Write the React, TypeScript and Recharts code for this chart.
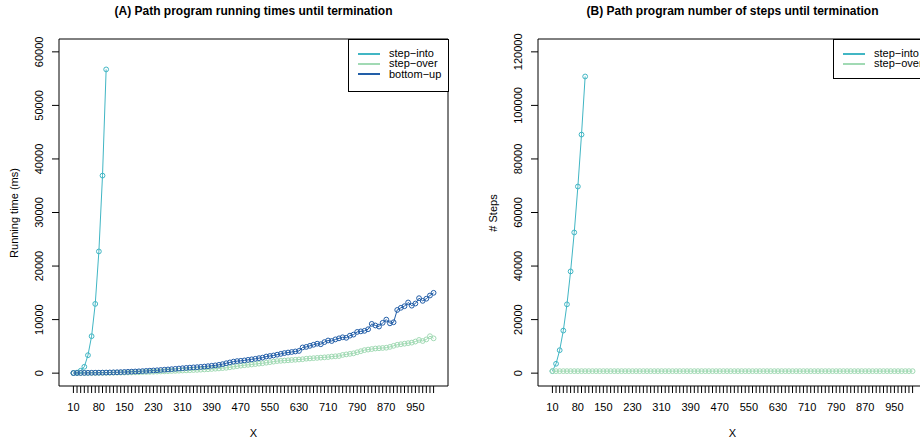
import { LineChart, Line, XAxis, YAxis, ReferenceArea } from "recharts";

const FONT = '"Liberation Sans", Arial, Helvetica, sans-serif';
const INTO = "#41B6C4";
const OVER = "#A1DAB4";
const BOTTOM = "#225EA8";
const INK = "#000";

const PANEL_W = 479;
const H = 444;
const MARGIN = { top: 39, right: 31, bottom: 0, left: 0 };
const X_DOMAIN: [number, number] = [-29.6, 1039.6];

// x categories (problem size)
const X_VALUES = [
  10, 20, 30, 40, 50, 60, 70, 80, 90, 100,
  110, 120, 130, 140, 150, 160, 170, 180, 190, 200,
  210, 220, 230, 240, 250, 260, 270, 280, 290, 300,
  310, 320, 330, 340, 350, 360, 370, 380, 390, 400,
  410, 420, 430, 440, 450, 460, 470, 480, 490, 500,
  510, 520, 530, 540, 550, 560, 570, 580, 590, 600,
  610, 620, 630, 640, 650, 660, 670, 680, 690, 700,
  710, 720, 730, 740, 750, 760, 770, 780, 790, 800,
  810, 820, 830, 840, 850, 860, 870, 880, 890, 900,
  910, 920, 930, 940, 950, 960, 970, 980, 990, 1000,
];
// labels R managed to fit under the ticks
const X_LABELS = [10, 80, 150, 230, 310, 390, 470, 550, 630, 710, 790, 870, 950];

// (A) running time, ms
const A_INTO = [30, 100, 450, 1190, 3350, 6900, 12930, 22730, 36890, 56720];
const A_OVER = [
  10, 15, 20, 25, 30, 35, 40, 45, 50, 60,
  70, 80, 90, 100, 115, 130, 145, 160, 180, 200,
  220, 240, 265, 290, 315, 340, 370, 400, 430, 460,
  490, 520, 550, 580, 610, 650, 690, 730, 780, 830,
  880, 940, 1000, 1100, 1200, 1300, 1400, 1480, 1550, 1620,
  1700, 1780, 1850, 1950, 2050, 2150, 2250, 2300, 2350, 2400,
  2450, 2500, 2550, 2600, 2700, 2750, 2800, 2850, 2900, 2950,
  3000, 3100, 3150, 3200, 3400, 3500, 3600, 3700, 3900, 4100,
  4300, 4400, 4500, 4600, 4650, 4700, 4750, 4900, 5100, 5300,
  5400, 5500, 5600, 5700, 5900, 6200, 6000, 6300, 6900, 6500,
];
const A_BOTTOM = [
  20, 30, 40, 50, 60, 70, 80, 90, 100, 110,
  130, 150, 170, 190, 220, 250, 280, 310, 340, 380,
  420, 460, 500, 540, 590, 640, 690, 740, 800, 860,
  920, 980, 1030, 1080, 1120, 1170, 1230, 1300, 1380, 1450,
  1550, 1680, 1850, 2000, 2150, 2250, 2300, 2380, 2480, 2580,
  2680, 2800, 2900, 3100, 3200, 3300, 3450, 3600, 3750, 3850,
  3950, 4050, 4150, 4800, 4900, 5100, 5300, 5500, 5400, 5800,
  6100, 6000, 6300, 6500, 6700, 6600, 7000, 7200, 7700, 7800,
  7900, 8200, 9200, 8900, 8700, 9400, 10000, 9300, 9500, 11800,
  12200, 12500, 13200, 12600, 13000, 14000, 13500, 13900, 14500, 15000,
];

// (B) number of steps
const B_INTO = [750, 3500, 8570, 15900, 25700, 38000, 52550, 69700, 89100, 110800];
const B_OVER = [
  750, 750, 750, 750, 750, 750, 750, 750, 750, 750,
  750, 750, 750, 750, 750, 750, 750, 750, 750, 750,
  750, 750, 750, 750, 750, 750, 750, 750, 750, 750,
  750, 750, 750, 750, 750, 750, 750, 750, 750, 750,
  750, 750, 750, 750, 750, 750, 750, 750, 750, 750,
  750, 750, 750, 750, 750, 750, 750, 750, 750, 750,
  750, 750, 750, 750, 750, 750, 750, 750, 750, 750,
  750, 750, 750, 750, 750, 750, 750, 750, 750, 750,
  750, 750, 750, 750, 750, 750, 750, 750, 750, 750,
  750, 750, 750, 750, 750, 750, 750, 750, 750, 750,
];

const A_TICKS = [0, 10000, 20000, 30000, 40000, 50000, 60000];
const B_TICKS = [0, 20000, 40000, 60000, 80000, 100000, 120000];

type Series = { key: string; name: string; color: string; values: number[] };

const A_SERIES: Series[] = [
  { key: "into", name: "step\u2212into", color: INTO, values: A_INTO },
  { key: "over", name: "step\u2212over", color: OVER, values: A_OVER },
  { key: "bottom", name: "bottom\u2212up", color: BOTTOM, values: A_BOTTOM },
];
const B_SERIES: Series[] = [
  { key: "into", name: "step\u2212into", color: INTO, values: B_INTO },
  { key: "over", name: "step\u2212over", color: OVER, values: B_OVER },
];

function buildRows(series: Series[]) {
  return X_VALUES.map((x, i) => {
    const row: Record<string, number | undefined> = { x };
    series.forEach((s) => (row[s.key] = s.values[i]));
    return row;
  });
}

function XTick(props: any) {
  const { x, y, payload } = props;
  if (!X_LABELS.includes(payload.value)) return <g />;
  return (
    <text x={x} y={y + 16} textAnchor="middle" fontSize={11} fill={INK} fontFamily={FONT}>
      {payload.value}
    </text>
  );
}

function YTick(props: any) {
  const { x, y, payload } = props;
  return (
    <g transform={`translate(${x - 10.5},${y}) rotate(-90)`}>
      <text x={0} y={0} dy="0.35em" textAnchor="middle" fontSize={11} fill={INK} fontFamily={FONT}>
        {payload.value}
      </text>
    </g>
  );
}

function LegendBox({ series, left, width, height }: { series: Series[]; left: number; width: number; height: number }) {
  return (
    <div
      style={{
        position: "absolute",
        left,
        top: MARGIN.top,
        width,
        height,
        border: `1px solid ${INK}`,
        boxSizing: "border-box",
        background: "#fff",
        fontSize: 11,
      }}
    >
      {series.map((s, i) => (
        <div key={s.key} style={{ position: "absolute", left: 9, top: 13.5 + i * 10.4 - 6.5, height: 13, display: "flex", alignItems: "center", whiteSpace: "nowrap" }}>
          <span style={{ display: "inline-block", width: 22, height: 2, background: s.color, marginRight: 9 }} />
          <span style={{ lineHeight: "13px" }}>{s.name}</span>
        </div>
      ))}
    </div>
  );
}

function Panel({
  title,
  yLabel,
  series,
  yDomain,
  yTicks,
  legendLeft,
  legendWidth,
  legendHeight,
}: {
  title: string;
  yLabel: string;
  series: Series[];
  yDomain: [number, number];
  yTicks: number[];
  legendLeft: number;
  legendWidth: number;
  legendHeight: number;
}) {
  const rows = buildRows(series);
  const plotCenter = 59 + (PANEL_W - 59 - MARGIN.right) / 2;
  return (
    <div style={{ position: "relative", width: PANEL_W, height: H, flex: "none" }}>
      <LineChart width={PANEL_W} height={H} data={rows} margin={MARGIN}>
        <XAxis
          dataKey="x"
          type="number"
          domain={X_DOMAIN}
          allowDataOverflow
          ticks={X_VALUES}
          interval={0}
          height={58}
          axisLine={false}
          tickSize={7}
          tickLine={{ stroke: INK }}
          tick={XTick}
        />
        <YAxis
          type="number"
          domain={yDomain}
          allowDataOverflow
          ticks={yTicks}
          interval={0}
          width={59}
          axisLine={false}
          tickSize={7}
          tickLine={{ stroke: INK }}
          tick={YTick}
        />
        <ReferenceArea
          x1={X_DOMAIN[0]}
          x2={X_DOMAIN[1]}
          y1={yDomain[0]}
          y2={yDomain[1]}
          fill="none"
          stroke={INK}
          strokeWidth={1}
        />
        {series.map((s) => (
          <Line
            key={s.key}
            type="linear"
            dataKey={s.key}
            stroke={s.color}
            strokeWidth={1}
            dot={{ r: 2.4, stroke: s.color, strokeWidth: 1, fill: "none" }}
            activeDot={false}
            isAnimationActive={false}
          />
        ))}
      </LineChart>
      <div
        style={{
          position: "absolute",
          left: plotCenter,
          top: 4,
          transform: "translateX(-50%)",
          fontWeight: "bold",
          fontSize: 12,
          lineHeight: "14px",
          whiteSpace: "nowrap",
        }}
      >
        {title}
      </div>
      <div
        style={{
          position: "absolute",
          left: plotCenter,
          top: 427,
          transform: "translateX(-50%)",
          fontSize: 11,
          lineHeight: "13px",
        }}
      >
        X
      </div>
      <div
        style={{
          position: "absolute",
          left: 14,
          top: (MARGIN.top + 386) / 2,
          transform: "translate(-50%,-50%) rotate(-90deg)",
          fontSize: 11,
          lineHeight: "13px",
          whiteSpace: "nowrap",
        }}
      >
        {yLabel}
      </div>
      <LegendBox series={series} left={legendLeft} width={legendWidth} height={legendHeight} />
    </div>
  );
}

export default function App() {
  return (
    <div
      style={{
        position: "absolute",
        left: 0,
        top: 0,
        width: 920,
        height: H,
        overflow: "hidden",
        background: "#fff",
        display: "flex",
        fontFamily: FONT,
        color: INK,
      }}
    >
      <Panel
        title="(A) Path program running times until termination"
        yLabel="Running time (ms)"
        series={A_SERIES}
        yDomain={[-2400, 62400]}
        yTicks={A_TICKS}
        legendLeft={348}
        legendWidth={101}
        legendHeight={53}
      />
      <Panel
        title="(B) Path program number of steps until termination"
        yLabel="# Steps"
        series={B_SERIES}
        yDomain={[-4800, 124800]}
        yTicks={B_TICKS}
        legendLeft={354}
        legendWidth={95}
        legendHeight={40}
      />
    </div>
  );
}
